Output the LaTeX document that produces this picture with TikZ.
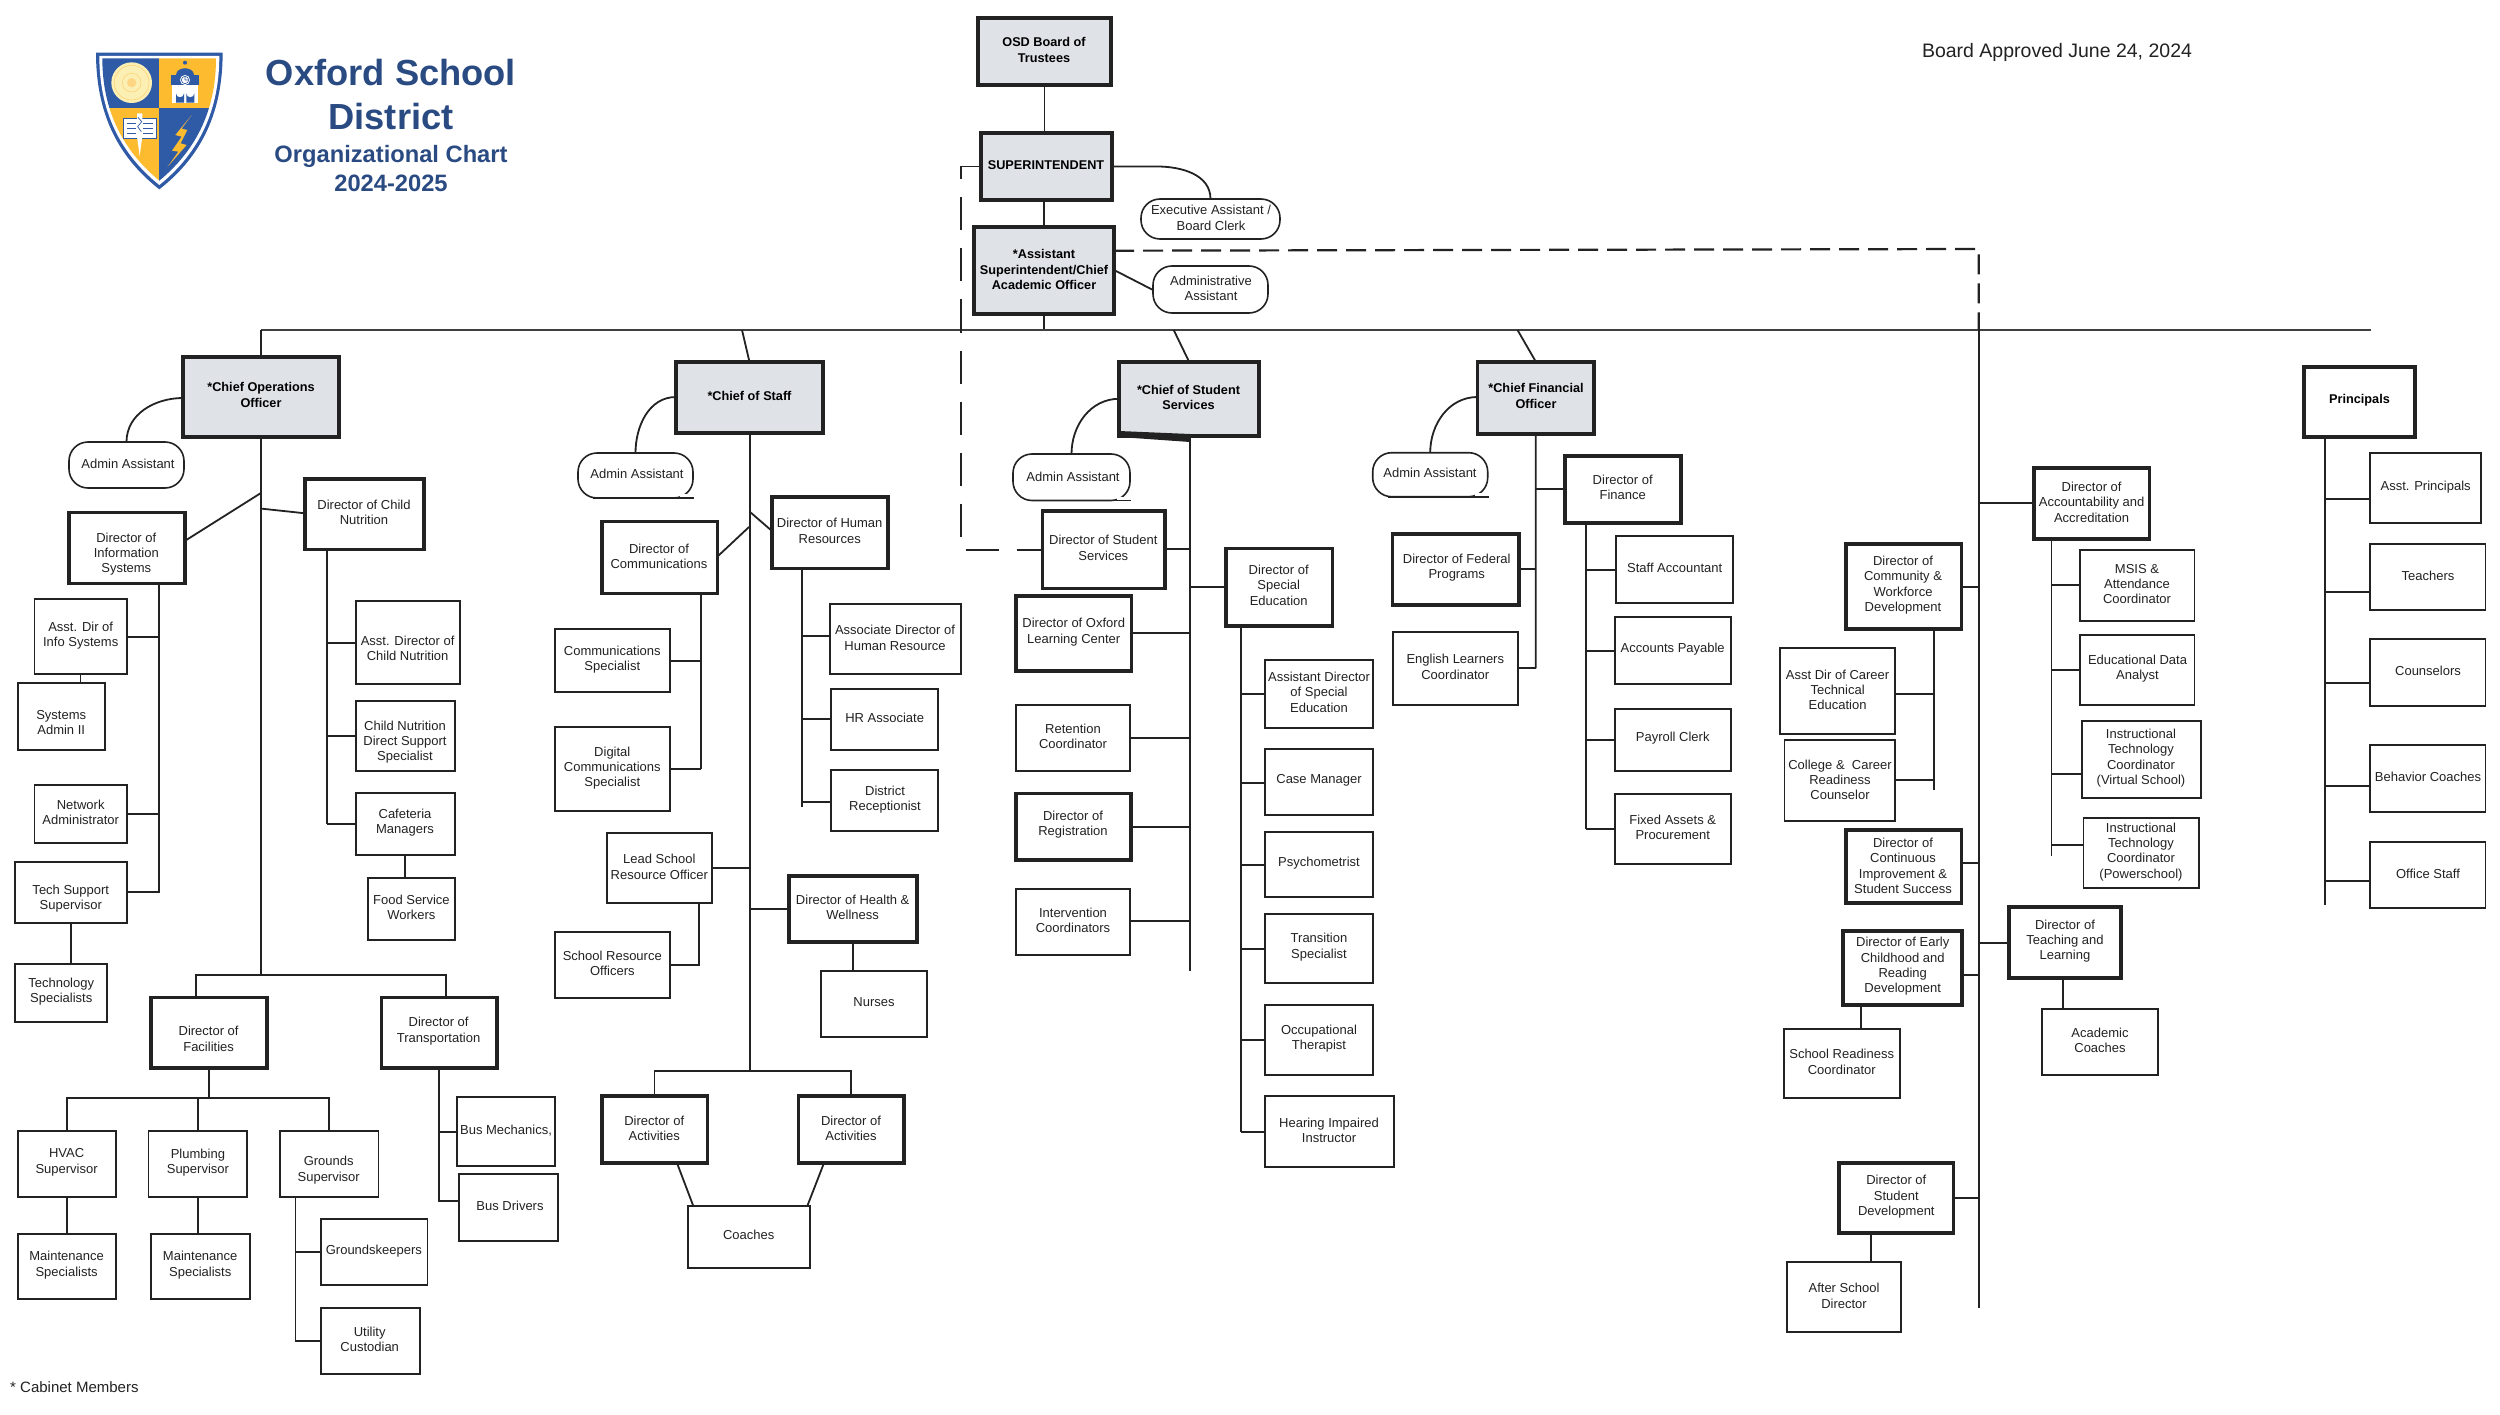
\documentclass[tikz,border=0pt]{standalone}
\usepackage{fontspec}
\setmainfont{Liberation Sans}
\definecolor{ink}{HTML}{222222}
\definecolor{chieffill}{HTML}{DFE3E8}
\definecolor{titleblue}{HTML}{2A4A82}
\definecolor{shieldblue}{HTML}{2F5AA6}
\definecolor{shieldgold}{HTML}{FDBB30}
\definecolor{sealpale}{HTML}{FCEFB4}
\tikzset{
 thinbox/.style={draw=ink,fill=white,line width=1.8pt,inner sep=0pt,outer sep=0pt},
 thickbox/.style={draw=ink,fill=white,line width=3.6pt,inner sep=0pt,outer sep=0pt},
 chiefbox/.style={draw=ink,fill=chieffill,line width=3.8pt,inner sep=0pt,outer sep=0pt},
 pillbox/.style={draw=ink,fill=white,line width=1.6pt,rounded corners=19pt,inner sep=0pt,outer sep=0pt},
 txt/.style={align=center,inner sep=0pt,text=ink,font=\fontsize{13}{15.3}\selectfont},
 chieftxt/.style={align=center,inner sep=0pt,text=black,font=\fontsize{12.7}{15.3}\selectfont\bfseries},
 ln/.style={draw=ink,line width=1.8pt},
 mainln/.style={draw=black!75,line width=2.4pt},
 dashthin/.style={draw=ink,line width=1.5pt,dash pattern=on 33pt off 18pt},
 dashthick/.style={draw=ink,line width=2.2pt,dash pattern=on 20pt off 9pt},
}
\newcommand\bx[8][thinbox]{%
 \node[#1,minimum width={(#5-#3)*1pt},minimum height={(#6-#4)*1pt}] (#2) at ({(#3+#5)/2},{(#4+#6)/2}) {};
 \node[txt] (#2-t) at (#7,#8) {\bxtext};}
\newcommand\bxc[7]{%
 \node[chiefbox,minimum width={(#4-#2)*1pt},minimum height={(#5-#3)*1pt}] (#1) at ({(#2+#4)/2},{(#3+#5)/2}) {};
 \node[chieftxt] (#1-t) at (#6,#7) {\bxtext};}
\newcommand\T[1]{\def\bxtext{#1}}
\newcommand\cn[3]{\draw[ln] (#1 |- 0,#3) -- (#2 |- 0,#3);}
\newcommand\pillgap[1]{%
 \fill[white] ([shift={(-13,-4)}]#1.south east) rectangle ([shift={(1,2)}]#1.south east);
 \draw[ln] ([shift={(-100,0)}]#1.south east) -- ([shift={(1,0)}]#1.south east);}
\begin{document}
\begin{tikzpicture}[x=1pt,y=-1pt]
\useasboundingbox (0,0) rectangle (2500,1415);
% ---------- logo ----------
\begin{scope}[shift={(70,30)},x=0.33333pt,y=-0.33333pt]
 \fill[shieldblue] (78,68)--(458,68) .. controls (458,240) and (400,375) .. (268,478) .. controls (136,375) and (78,240) .. (78,68)--cycle;
 \fill[white] (88,78)--(448,78) .. controls (448,235) and (392,365) .. (268,465) .. controls (144,365) and (88,235) .. (88,78)--cycle;
 \begin{scope}
  \clip (97,85)--(438,85) .. controls (438,232) and (385,355) .. (268,452) .. controls (151,355) and (97,232) .. (97,85)--cycle;
  \fill[shieldblue] (90,80) rectangle (268,235);
  \fill[shieldgold] (268,80) rectangle (445,235);
  \fill[shieldgold] (90,235) rectangle (268,460);
  \fill[shieldblue] (268,235) rectangle (445,460);
 \end{scope}
 \fill[sealpale] (185,158) circle (61);
 \draw[shieldgold!70!white,line width=0.5pt] (185,158) circle (52) (185,158) circle (28);
 \fill[shieldgold!60!white] (185,158) circle (14);
 % building
 \fill[shieldblue] (345,98) circle (6);
 \fill[shieldblue] (318,135) .. controls (320,108) and (370,108) .. (372,135) -- cycle;
 \fill[shieldblue] (303,135) rectangle (388,165);
 \fill[white] (345,150) circle (15);
 \draw[shieldblue,line width=0.6pt] (345,150) circle (11) (345,150)--(345,142) (345,150)--(353,150);
 \fill[white] (307,165) rectangle (384,218);
 \fill[shieldblue] (318,218)--(318,190) arc (180:0:12) --(342,218)--cycle;
 \fill[shieldblue] (349,218)--(349,190) arc (180:0:12) --(373,218)--cycle;
 % book and dagger
 \fill[white] (160,265) rectangle (258,325);
 \draw[shieldblue,line width=0.8pt] (160,265) rectangle (258,325) (170,280)--(198,280) (170,295)--(198,295) (170,310)--(198,310) (220,280)--(248,280) (220,295)--(248,295) (220,310)--(248,310);
 \fill[white] (201,320)--(209,378)--(217,320)--(217,250)--(201,250)--cycle;
 \draw[shieldblue,line width=0.7pt] (204,262)--(215,275)--(203,290)--(214,305);
 % bolt
 \fill[shieldgold] (365,255)--(316,315)--(335,320)--(306,362)--(325,365)--(293,410)--(350,345)--(332,340)--(352,300)--(335,296)--cycle;
\end{scope}
% ---------- titles ----------
\node[inner sep=0pt,align=center,text=titleblue,font=\fontsize{36.3}{43.5}\selectfont\bfseries] (title) at (391,94.5) {Oxford School\\District};
\node[inner sep=0pt,align=center,text=titleblue,font=\fontsize{23.7}{28.5}\selectfont\bfseries] (subtitle) at (391,168.5) {Organizational Chart\\2024-2025};
\node[inner sep=0pt,text=ink,font=\fontsize{19.5}{23}\selectfont] (approved) at (2057,52) {Board Approved June 24, 2024};
\node[inner sep=0pt,anchor=west,text=ink,font=\fontsize{15}{18}\selectfont] (cabinet) at (10,1387) {* Cabinet Members};
% ---------- top ----------
\T{OSD Board of\\Trustees}\bxc{board}{978}{18}{1111}{85}{1044}{50}
\T{SUPERINTENDENT}\bxc{super}{981}{133}{1112}{200}{1046}{165}
\T{*Assistant\\Superintendent/Chief\\Academic Officer}\bxc{asup}{974}{227}{1114}{314}{1044}{269.5}
\T{Executive Assistant /\\Board Clerk}\bx[pillbox]{exec}{1141}{199}{1280}{239}{1211}{218}
\T{Administrative\\Assistant}\bx[pillbox]{admas}{1153}{266}{1268}{313}{1211}{288.5}
\coordinate (h1) at (261,330);\coordinate (h2) at (2371,330);
\coordinate (hcos) at (742,330);\coordinate (hcss) at (1173.7,330);\coordinate (hcfo) at (1517.5,330);
\coordinate (hasup) at (1044,330);\coordinate (hright) at (1978.7,330);
\coordinate (rtrunk) at (1978.7,1308);
% ---------- chiefs ----------
\T{*Chief Operations\\Officer}\bxc{cops}{183}{357}{339}{437}{261}{395}
\T{*Chief of Staff}\bxc{cos}{676}{362}{823}{433}{749.5}{396}
\T{*Chief of Student\\Services}\bxc{css}{1119}{361.6}{1259}{436}{1188.5}{397.5}
\T{*Chief Financial\\Officer}\bxc{cfo}{1477.5}{361.6}{1594}{433.6}{1536}{396}
\T{Admin Assistant}\bx[pillbox]{adm1}{69}{442}{184}{488}{128}{464}
\T{Admin Assistant}\bx[pillbox]{adm2}{578}{453}{693}{498}{637}{474}
\T{Admin Assistant}\bx[pillbox]{adm3}{1013}{454}{1130}{500.5}{1073}{476.5}
\T{Admin Assistant}\bx[pillbox]{adm4}{1372.7}{452.7}{1487.7}{496.7}{1430}{473}
\pillgap{adm2}\pillgap{adm3}\pillgap{adm4}
\fill[ink] (1119,431)--(1119,437)--(1190,442)--(1190,434)--cycle;
% ---------- principals ----------
\node[thickbox,minimum width=111pt,minimum height=70pt] (prin) at (2359.5,402) {};
\node[chieftxt] (prin-t) at (2359.5,400) {Principals};
\T{Asst. Principals}\bx{p1}{2370}{453}{2481}{523}{2425.6}{487}
\T{Teachers}\bx{p2}{2370}{544}{2485.4}{610}{2428}{576}
\T{Counselors}\bx{p3}{2370}{639}{2485.4}{705.7}{2428}{671}
\T{Behavior Coaches}\bx{p4}{2370}{745}{2485.4}{811.7}{2428}{777}
\T{Office Staff}\bx{p5}{2370}{842}{2485.4}{908}{2428}{874}
\coordinate (tp) at (2324.6,905);
% ---------- right column ----------
\T{Director of\\Accountability and\\Accreditation}\bx[thickbox]{acc}{2034}{468}{2149.5}{539}{2091.6}{502.3}
\T{MSIS \&\\Attendance\\Coordinator}\bx{msis}{2079.7}{550}{2194.5}{620.7}{2137}{584}
\T{Educational Data\\Analyst}\bx{eda}{2079.7}{635}{2194.5}{705}{2137.5}{668.7}
\T{Instructional\\Technology\\Coordinator\\(Virtual School)}\bx{itv}{2081.6}{721}{2200.7}{798}{2141}{758}
\T{Instructional\\Technology\\Coordinator\\(Powerschool)}\bx{itp}{2083.5}{818}{2198.8}{887.7}{2141}{851.7}
\coordinate (tacc) at (2051.4,856);
\T{Director of\\Community \&\\Workforce\\Development}\bx[thickbox]{com}{1845.7}{544}{1961.5}{629}{1903}{585}
\T{Asst Dir of Career\\Technical\\Education}\bx{adc}{1780}{648}{1895}{733.7}{1837.6}{689.7}
\T{College \&\ \ Career\\Readiness\\Counselor}\bx{crc}{1784.4}{739.7}{1895}{821}{1840}{779.7}
\coordinate (tcom) at (1933.7,790);
\T{Director of\\Continuous\\Improvement \&\\Student Success}\bx[thickbox]{cont}{1845.7}{830}{1961.5}{903}{1903}{865.7}
\T{Director of Early\\Childhood and\\Reading\\Development}\bx[thickbox]{early}{1843}{931}{1961.7}{1005}{1902.7}{966.5}
\T{School Readiness\\Coordinator}\bx{srdc}{1784}{1028.7}{1900}{1098}{1841.7}{1061.7}
\T{Director of\\Teaching and\\Learning}\bx[thickbox]{teach}{2009}{907}{2121}{978}{2065}{941.3}
\T{Academic\\Coaches}\bx{acad}{2042}{1009}{2157.7}{1074.7}{2100}{1040}
\T{Director of\\Student\\Development}\bx[thickbox]{sdev}{1839}{1163}{1953.3}{1233}{1896.3}{1196.7}
\T{After School\\Director}\bx{after}{1787}{1262}{1900.7}{1332}{1844}{1295.7}
% ---------- finance ----------
\T{Director of\\Finance}\bx[thickbox]{fin}{1565}{455.7}{1681}{523}{1622.7}{487.7}
\T{Staff Accountant}\bx{staffa}{1616.3}{535.7}{1733}{603}{1674.7}{568}
\T{Accounts Payable}\bx{apay}{1614.7}{617}{1731.3}{684.3}{1672.7}{649.3}
\T{Payroll Clerk}\bx{payr}{1614.7}{709}{1731.3}{771}{1672.7}{738.3}
\T{Fixed Assets \&\\Procurement}\bx{fixa}{1614.7}{794.3}{1731.3}{863.7}{1672.7}{827.3}
\T{Director of Federal\\Programs}\bx[thickbox]{fed}{1392.3}{533.7}{1519}{605}{1456.7}{567.7}
\T{English Learners\\Coordinator}\bx{engl}{1392.7}{631.7}{1518.3}{704.7}{1455.3}{666.7}
\coordinate (tcfo) at (1535.7,668.3);\coordinate (tfin) at (1586,828.7);
% ---------- student services ----------
\T{Director of Student\\Services}\bx[thickbox]{dss}{1042.3}{510.7}{1164.7}{588.3}{1103.3}{547.7}
\T{Director of Oxford\\Learning Center}\bx[thickbox]{olc}{1015.7}{596}{1131.3}{671}{1073.7}{632}
\T{Director of\\Special\\Education}\bx[thickbox]{sped}{1225.7}{548.3}{1332.3}{625.7}{1278.7}{585.3}
\T{Retention\\Coordinator}\bx{ret}{1015.7}{705}{1130.3}{771}{1073}{736.3}
\T{Director of\\Registration}\bx[thickbox]{reg}{1015.7}{793.3}{1131}{860}{1073}{824.7}
\T{Intervention\\Coordinators}\bx{intv}{1015.7}{888.7}{1130}{954.7}{1073}{920.3}
\coordinate (tcss) at (1190,970.7);\coordinate (tsped) at (1241,1131.7);
\T{Assistant Director\\of Special\\Education}\bx{asped}{1264.7}{660.3}{1373.3}{728}{1319}{692.3}
\T{Case Manager}\bx{casem}{1264.7}{749.3}{1373.3}{815.3}{1319}{780.7}
\T{Psychometrist}\bx{psych}{1264.7}{831.7}{1373.3}{897.3}{1319}{863}
\T{Transition\\Specialist}\bx{trans}{1264.7}{913.7}{1373.3}{983.3}{1319}{947}
\T{Occupational\\Therapist}\bx{occu}{1264.7}{1005}{1373.3}{1074.7}{1319}{1038.7}
\T{Hearing Impaired\\Instructor}\bx{hear}{1264.7}{1096.3}{1393.7}{1166.7}{1329}{1130.3}
% ---------- chief of staff ----------
\T{Director of\\Communications}\bx[thickbox]{dcom}{601.7}{521.3}{717.3}{593.3}{659}{556.7}
\T{Director of Human\\Resources}\bx[thickbox]{dhr}{772}{496.7}{887.7}{568.3}{829.7}{531}
\T{Associate Director of\\Human Resource}\bx{ahr}{829.7}{604.3}{961}{674}{895}{637.7}
\T{HR Associate}\bx{hra}{831.3}{688.7}{938.3}{750}{884.7}{717.7}
\T{District\\Receptionist}\bx{drec}{831.3}{770.3}{938.3}{831}{885}{799.3}
\T{Communications\\Specialist}\bx{cspec}{555.3}{629.3}{670.3}{692.3}{612.3}{659.3}
\T{Digital\\Communications\\Specialist}\bx{dspec}{555.3}{726.7}{670.3}{811.3}{612.3}{768}
\T{Lead School\\Resource Officer}\bx{lsro}{607.3}{833.3}{711.7}{903}{659.3}{866.7}
\T{School Resource\\Officers}\bx{sro}{555.3}{932.3}{670}{998}{612.3}{963.3}
\T{Director of Health \&\\Wellness}\bx[thickbox]{dhw}{789}{875.7}{916.7}{942}{852.7}{907.3}
\T{Nurses}\bx{nurse}{821.3}{970.7}{926.7}{1036.7}{874}{1002}
\T{Director of\\Activities}\bx[thickbox]{actl}{601.7}{1096}{707.3}{1163}{654.3}{1128.3}
\T{Director of\\Activities}\bx[thickbox]{actr}{798.3}{1096}{904}{1163}{851}{1128.3}
\T{Coaches}\bx{coach}{687.7}{1206}{810}{1267.7}{748.7}{1235.3}
\coordinate (tcos) at (749.7,1070.7);\coordinate (thr) at (801.7,806.7);\coordinate (tdcom) at (701,769.3);
% ---------- operations ----------
\T{Director of\\Information\\Systems}\bx[thickbox]{dinf}{68.9}{512.3}{185.2}{583.3}{126.3}{554}
\T{Director of Child\\Nutrition}\bx[thickbox]{dchild}{305}{479}{423.7}{549.3}{364}{512.3}
\T{Asst. Dir of\\Info Systems}\bx{adinf}{34.4}{599.3}{126.7}{674}{80.7}{635.3}
\T{Systems\\Admin II}\bx{sysad}{17.6}{683.3}{105.2}{749.7}{61.2}{722.7}
\T{Network\\Administrator}\bx{netad}{34.4}{785}{126.7}{842.7}{80.7}{812}
\T{Tech Support\\Supervisor}\bx{tsup}{15.3}{861.7}{126.7}{923.3}{70.8}{898.3}
\T{Technology\\Specialists}\bx{tspec}{15}{964}{107.2}{1021.7}{61.2}{991.3}
\T{Asst. Director of\\Child Nutrition}\bx{adchild}{356}{601}{459.6}{684.3}{407.6}{648.3}
\T{Child Nutrition\\Direct Support\\Specialist}\bx{cnds}{356}{700.7}{454.6}{771}{405}{742}
\T{Cafeteria\\Managers}\bx{cafe}{356}{793.3}{454.6}{855.3}{405}{822.7}
\T{Food Service\\Workers}\bx{food}{368}{878}{455}{939.7}{411.4}{907}
\T{Director of\\Facilities}\bx[thickbox]{fac}{150.8}{997.3}{266.7}{1067.7}{208.6}{1038.7}
\T{Director of\\Transportation}\bx[thickbox]{trp}{381.6}{997.3}{497}{1067.7}{438.6}{1031}
\T{HVAC\\Supervisor}\bx{hvac}{17.6}{1131.3}{116.3}{1197.3}{66.6}{1162.3}
\T{Plumbing\\Supervisor}\bx{plumb}{148.5}{1131.3}{247.2}{1197.3}{197.9}{1162.3}
\T{Grounds\\Supervisor}\bx{grnd}{279.8}{1131.3}{378.5}{1197.3}{328.7}{1170}
\T{Maintenance\\Specialists}\bx{mnt1}{17.6}{1233.7}{116.3}{1299.3}{66.6}{1265}
\T{Maintenance\\Specialists}\bx{mnt2}{151.2}{1233.7}{249.9}{1299.3}{200.2}{1265}
\T{Groundskeepers}\bx{gk}{320.7}{1219.3}{427.5}{1285}{373.9}{1251}
\T{Utility\\Custodian}\bx{util}{320.7}{1308.3}{419.8}{1373.7}{369.7}{1339.3}
\T{Bus Mechanics,}\bx{bmech}{456.6}{1097.3}{555}{1165.7}{506}{1130.3}
\T{Bus Drivers}\bx{bdrv}{459.2}{1174}{557.6}{1241.3}{510}{1206}
\coordinate (tinf) at (158.8,892.3);\coordinate (tchild) at (327.2,824);\coordinate (tops) at (261.4,975.3);
\coordinate (tfac) at (209,1097.7);\coordinate (tgrnd) at (295.4,1341);\coordinate (ttrp) at (439,1200.7);
% ---------- connectors: top ----------
\draw[ln] (board.south) -- (board.south |- super.north);
\draw[ln] (super.south -| asup.north) -- (asup.north);
\draw[ln] (asup.south) -- (hasup);
\draw[ln] (super.east |- 0,166.5) -- ++(45,0) to[out=0,in=90] (exec.north);
\draw[ln] (asup.east |- 0,270) -- (admas.west |- 0,290);
\draw[mainln] (h1) -- (h2);
\draw[dashthin] (super.west |- 0,166.5) -- (961,166.5) -- (961,550) -- (dss.west |- 0,550);
\draw[dashthick] (asup.east |- 0,250.7) -- (1978.7,249) -- (hright);
\draw[ln] (hright) -- (rtrunk);
\draw[ln] (cops.north) -- (h1);
\draw[ln] (cos.north) -- (hcos);
\draw[ln] (css.north) -- (hcss);
\draw[ln] (cfo.north) -- (hcfo);
\draw[ln] (cops.west |- 0,398) to[out=180,in=90] (adm1.north);
\draw[ln] (cos.west |- 0,397) to[out=180,in=90] (adm2.north);
\draw[ln] (css.west |- 0,398.8) to[out=180,in=90] (adm3.north);
\draw[ln] (cfo.west |- 0,397) to[out=180,in=90] (adm4.north);
% ---------- principals ----------
\draw[ln] (tp |- prin.south) -- (tp);
\cn{p1.west}{tp}{499}\cn{p2.west}{tp}{592}\cn{p3.west}{tp}{682.7}\cn{p4.west}{tp}{786}\cn{p5.west}{tp}{881}
% ---------- right column ----------
\cn{acc.west}{rtrunk}{503}
\draw[ln] (tacc |- acc.south) -- (tacc);
\cn{msis.west}{tacc}{585}\cn{eda.west}{tacc}{670}\cn{itv.west}{tacc}{774}\cn{itp.west}{tacc}{845}
\cn{com.east}{rtrunk}{586.7}
\draw[ln] (tcom |- com.south) -- (tcom);
\cn{adc.east}{tcom}{694}\cn{crc.east}{tcom}{780}
\cn{cont.east}{rtrunk}{863}
\cn{early.east}{rtrunk}{974.7}
\draw[ln] (early.south -| 1861.3,0) -- (srdc.north -| 1861.3,0);
\cn{teach.west}{rtrunk}{942.7}
\draw[ln] (teach.south -| 2063.3,0) -- (acad.north -| 2063.3,0);
\cn{sdev.east}{rtrunk}{1198.3}
\draw[ln] (sdev.south -| 1870.7,0) -- (after.north -| 1870.7,0);
% ---------- finance ----------
\draw[ln] (cfo.south) -- (tcfo);
\cn{fin.west}{tcfo}{489}\cn{fed.east}{tcfo}{569.3}\cn{engl.east}{tcfo}{668.3}
\draw[ln] (tfin |- fin.south) -- (tfin);
\cn{staffa.west}{tfin}{569.7}\cn{apay.west}{tfin}{650.7}\cn{payr.west}{tfin}{740}\cn{fixa.west}{tfin}{828.7}
% ---------- student services ----------
\draw[ln] (tcss |- css.south) -- (tcss);
\cn{dss.east}{tcss}{549.3}\cn{sped.west}{tcss}{586.7}\cn{olc.east}{tcss}{633.3}\cn{ret.east}{tcss}{738.3}\cn{reg.east}{tcss}{826.7}\cn{intv.east}{tcss}{921.3}
\draw[ln] (tsped |- sped.south) -- (tsped);
\cn{asped.west}{tsped}{694.3}\cn{casem.west}{tsped}{782.7}\cn{psych.west}{tsped}{864.7}\cn{trans.west}{tsped}{948.7}\cn{occu.west}{tsped}{1040}\cn{hear.west}{tsped}{1131.7}
% ---------- chief of staff ----------
\draw[ln] (tcos |- cos.south) -- (tcos);
\draw[ln] (dcom.east |- 0,556.7) -- (749,527);
\draw[ln] (749.7,511.7) -- (dhr.west |- 0,531);
\draw[ln] (thr |- dhr.south) -- (thr);
\cn{ahr.west}{thr}{636}\cn{hra.west}{thr}{718.7}\cn{drec.west}{thr}{801.7}
\draw[ln] (tdcom |- dcom.south) -- (tdcom);
\cn{cspec.east}{tdcom}{660.7}\cn{dspec.east}{tdcom}{769.3}
\cn{lsro.east}{tcos}{868}
\draw[ln] (lsro.south -| 698.7,0) -- (698.7,965) -- (sro.east |- 0,965);
\cn{dhw.west}{tcos}{908.7}
\draw[ln] (dhw.south) -- (dhw.south |- nurse.north);
\draw[ln] (actl.north) -- (actl.north |- tcos) -- (actr.north |- tcos) -- (actr.north);
\draw[ln] (677,1163) -- (693.3,1206);
\draw[ln] (824,1163) -- (807.3,1206);
% ---------- operations ----------
\draw[ln] (cops.south) -- (cops.south |- tops);
\draw[ln] (dinf.east |- 0,540.7) -- (261.4,492.7);
\draw[ln] (262,508.7) -- (dchild.west |- 0,513.3);
\draw[ln] (tinf |- dinf.south) -- (tinf) -- (tsup.east |- tinf);
\cn{adinf.east}{tinf}{636.7}\cn{netad.east}{tinf}{814}
\draw[ln] (adinf.south) -- (adinf.south |- sysad.north);
\draw[ln] (tsup.south) -- (tsup.south |- tspec.north);
\draw[ln] (tchild |- dchild.south) -- (tchild);
\cn{adchild.west}{tchild}{642.7}\cn{cnds.west}{tchild}{736}\cn{cafe.west}{tchild}{824}
\draw[ln] (cafe.south) -- (cafe.south |- food.north);
\draw[ln] (195.6,997.3) -- (195.6,975.3) -- (446,975.3) -- (446,997.3);
\draw[ln] (fac.south -| tfac) -- (tfac);
\draw[ln] (hvac.north) -- (hvac.north |- tfac) -- (grnd.north |- tfac) -- (grnd.north);
\draw[ln] (plumb.north) -- (plumb.north |- tfac);
\draw[ln] (hvac.south) -- (mnt1.north);
\draw[ln] (plumb.south) -- (plumb.south |- mnt2.north);
\draw[ln] (tgrnd |- grnd.south) -- (tgrnd) -- (tgrnd -| util.west);
\cn{gk.west}{tgrnd}{1252.3}
\draw[ln] (ttrp |- trp.south) -- (ttrp) -- (ttrp -| bdrv.west);
\cn{bmech.west}{ttrp}{1132}
\end{tikzpicture}
\end{document}
